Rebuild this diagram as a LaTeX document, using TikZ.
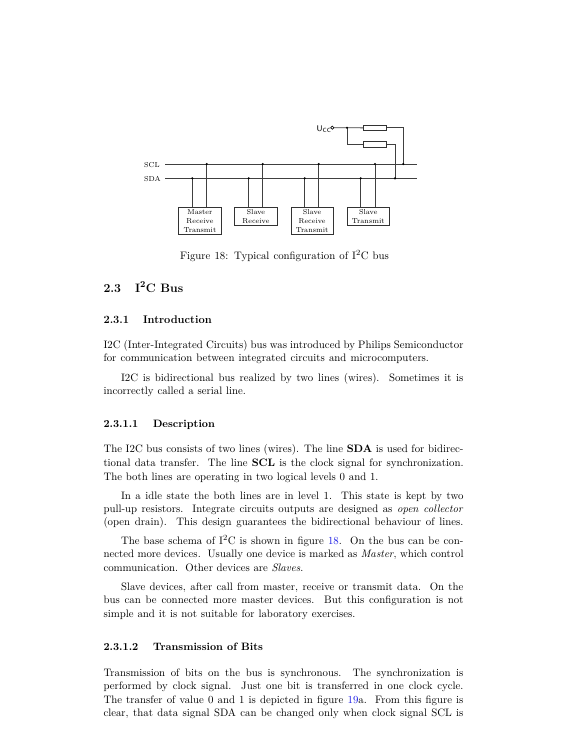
\documentclass[tikz,border=0pt]{standalone}
\usepackage{xcolor}
\definecolor{linkblue}{rgb}{0.1,0.1,0.9}
\tikzset{
  wire/.style={line width=0.9pt,draw=black!75},
  dot/.style={circle,fill=black,inner sep=0pt,minimum size=2.4pt},
  device/.style={draw=black!80,line width=0.8pt,inner sep=0pt,align=center,anchor=north west,font=\fontsize{7.2}{9}\selectfont},
  resistor/.style={draw=black!80,line width=0.8pt,inner sep=0pt,minimum width=23.4pt,minimum height=5.4pt,fill=white},
  terminal/.style={circle,draw=black,line width=0.6pt,fill=white,inner sep=0pt,minimum size=3.2pt},
  txt/.style={inner sep=0pt,outer sep=0pt,anchor=base west,font=\fontsize{10.8}{12}\selectfont},
  lab/.style={inner sep=0pt,anchor=base west,font=\fontsize{7.2}{9}\selectfont},
  sec/.style={txt,font=\fontsize{12.2}{15}\selectfont\bfseries},
  subsec/.style={txt,font=\fontsize{11.1}{14}\selectfont\bfseries},
  subsubsec/.style={txt,font=\fontsize{10.7}{12}\selectfont\bfseries}
}
\newcommand{\jl}[1]{\makebox[360pt][s]{#1}}
\newcommand{\wl}[2]{\makebox[#1pt][s]{#2}}
\begin{document}
\begin{tikzpicture}[x=1pt,y=-1pt]
\useasboundingbox (0,0) rectangle (576,737);
\fill[white] (0,0) rectangle (576,737);
% --- bus
\coordinate (sclL) at (165,164);
\coordinate (sclR) at (416.7,164);
\coordinate (sdaL) at (165,178.3);
\coordinate (sdaR) at (416.7,178.3);
\draw[wire] (sclL) -- (sclR);
\draw[wire] (sdaL) -- (sdaR);
\node[lab] (scl) at (144,167) {SCL};
\node[lab] (sda) at (144,181.5) {SDA};
% --- devices
\node[device,minimum width=42.4pt,minimum height=27.6pt] (m1) at (178.3,206.7) {Master\\Receive\\Transmit};
\node[device,minimum width=42.4pt,minimum height=18.3pt] (m2) at (234.3,206.7) {Slave\\Receive};
\node[device,minimum width=42pt,minimum height=27.6pt] (m3) at (290.7,206.7) {Slave\\Receive\\Transmit};
\node[device,minimum width=42.3pt,minimum height=18.3pt] (m4) at (346.7,206.7) {Slave\\Transmit};
\foreach \n/\a/\b in {m1/192.3/206.7,m2/248.7/262.7,m3/304.7/318.7,m4/360.7/375}{
  \coordinate (\n a) at (\a,178.3);
  \coordinate (\n b) at (\b,164);
  \draw[wire] (\n a) -- (\n a |- \n.north);
  \draw[wire] (\n b) -- (\n b |- \n.north);
  \node[dot] at (\n a) {};
  \node[dot] at (\n b) {};
}
% --- pull-ups
\node[inner sep=0pt,anchor=base west,font=\sffamily\fontsize{8.2}{9}\selectfont] (ucc) at (316.5,131) {U\raisebox{-1.2pt}{\fontsize{6}{7}\selectfont CC}};
\node[terminal] (t) at (332.3,127.7) {};
\coordinate (j) at (347,127.7);
\node[resistor] (r1) at (375,127.9) {};
\node[resistor] (r2) at (375,144.3) {};
\coordinate (jscl) at (403.3,164);
\coordinate (jsda) at (395,178.3);
\draw[wire] (t) -- (j) -- (r1);
\draw[wire] (j) |- (r2);
\draw[wire] (r1) -| (jscl);
\draw[wire] (r2) -| (jsda);
\node[dot] at (j) {};
\node[dot] at (jscl) {};
\node[dot] at (jsda) {};
% --- text
\node[txt] (cap) at (180,259.5) {\wl{209}{Figure 18: Typical configuration of I$^2$C bus}};
\node[sec] (s1) at (103.5,292) {2.3};
\node[sec] (s2) at (135,292) {I$^{\mathbf 2}$C Bus};
\node[subsec] (s3) at (103.5,323) {2.3.1};
\node[subsec] (s4) at (143,323) {Introduction};
\node[txt] (p1) at (103.5,348) {\jl{I2C (Inter-Integrated Circuits) bus was introduced by Philips Semiconductor}};
\node[txt] (p2) at (103.5,361.7) {\wl{325.5}{for communication between integrated circuits and microcomputers.}};
\node[txt] (p3) at (121,381) {\wl{342.5}{I2C is bidirectional bus realized by two lines (wires).\ \ Sometimes it is}};
\node[txt] (p4) at (103.5,394.5) {\wl{142.5}{incorrectly called a serial line.}};
\node[subsubsec] (s5) at (103.5,427.7) {2.3.1.1};
\node[subsubsec] (s6) at (153,427.7) {Description};
\node[txt] (p5) at (103.5,452.7) {\jl{The I2C bus consists of two lines (wires). The line \textbf{SDA} is used for bidirec-}};
\node[txt] (p6) at (103.5,466.5) {\jl{tional data transfer.\ \ The line \textbf{SCL} is the clock signal for synchronization.}};
\node[txt] (p7) at (103.5,480) {\wl{275}{The both lines are operating in two logical levels 0 and 1.}};
\node[txt] (p8) at (121,499) {\wl{342.5}{In a idle state the both lines are in level 1.\ \ This state is kept by two}};
\node[txt] (p9) at (103.5,512.3) {\jl{pull-up resistors.\ \ Integrate circuits outputs are designed as \textit{open collector}}};
\node[txt] (p10) at (103.5,525.7) {\jl{(open drain).\ \ This design guarantees the bidirectional behaviour of lines.}};
\node[txt] (p11) at (121,544) {\wl{342.5}{The base schema of I$^2$C is shown in figure \textcolor{linkblue}{18}.\ \ On the bus can be con-}};
\node[txt] (p12) at (103.5,557.7) {\jl{nected more devices.\ \ Usually one device is marked as \textit{Master}, which control}};
\node[txt] (p13) at (103.5,571.3) {\wl{199.8}{communication.\ \ Other devices are \textit{Slaves}.}};
\node[txt] (p14) at (121,590) {\wl{342.5}{Slave devices, after call from master, receive or transmit data.\ \ On the}};
\node[txt] (p15) at (103.5,603.7) {\jl{bus can be connected more master devices.\ \ But this configuration is not}};
\node[txt] (p16) at (103.5,617) {\wl{252}{simple and it is not suitable for laboratory exercises.}};
\node[subsubsec] (s7) at (103.5,650.7) {2.3.1.2};
\node[subsubsec] (s8) at (153,650.7) {Transmission of Bits};
\node[txt] (p17) at (103.5,676) {\jl{Transmission of bits on the bus is synchronous.\ \ The synchronization is}};
\node[txt] (p18) at (103.5,689.7) {\jl{performed by clock signal.\ \ Just one bit is transferred in one clock cycle.}};
\node[txt] (p19) at (103.5,703) {\jl{The transfer of value 0 and 1 is depicted in figure \textcolor{linkblue}{19}a.\ \ From this figure is}};
\node[txt] (p20) at (103.5,716.7) {\jl{clear, that data signal SDA can be changed only when clock signal SCL is}};
\end{tikzpicture}
\end{document}
